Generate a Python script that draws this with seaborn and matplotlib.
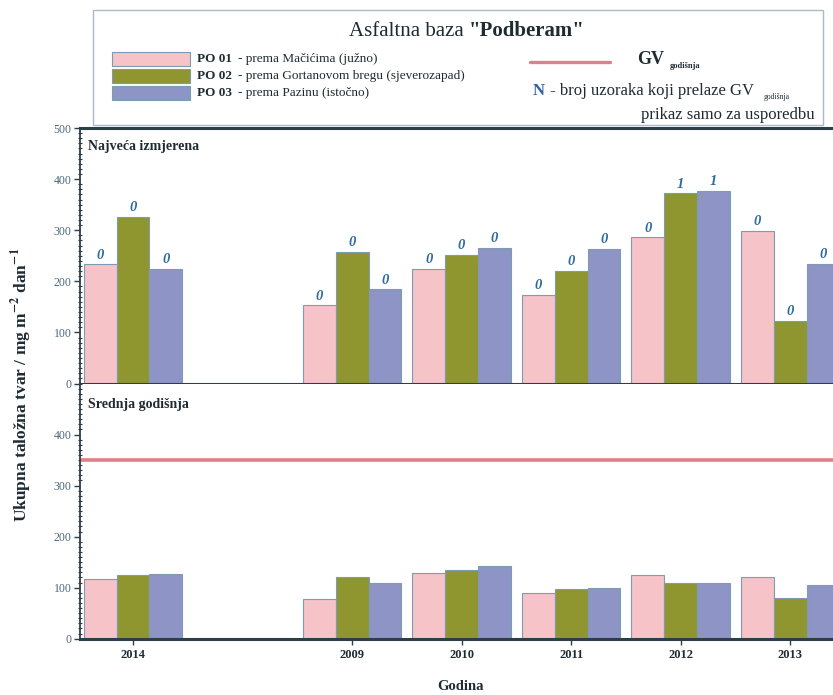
import numpy as np
import pandas as pd
import matplotlib
matplotlib.use("Agg")
import matplotlib.pyplot as plt
import seaborn as sns
from matplotlib.ticker import MultipleLocator
from matplotlib.patches import Rectangle
from matplotlib.lines import Line2D

# values
years = ['2014', '2009', '2010', '2011', '2012', '2013']
stations = ['PO 01', 'PO 02', 'PO 03']
station_names = ['- prema Mačićima (južno)',
                 '- prema Gortanovom bregu (sjeverozapad)',
                 '- prema Pazinu (istočno)']
max_po01 = [233, 153, 225, 173, 286, 299]
max_po02 = [326, 258, 251, 221, 372, 123]
max_po03 = [225, 184, 265, 264, 377, 234]
mean_po01 = [117, 78, 128, 90, 125, 120]
mean_po02 = [124, 121, 134, 98, 110, 80]
mean_po03 = [126, 109, 143, 100, 109, 106]
n_po01 = [0, 0, 0, 0, 0, 0]
n_po02 = [0, 0, 0, 0, 1, 0]
n_po03 = [0, 0, 0, 0, 1, 0]
gv_godisnja = 350

# one empty slot between 2014 and 2009 as in the original
slots = ['2014', ' ', '2009', '2010', '2011', '2012', '2013']
colors = ['#F5C3C8', '#8F9630', '#8E94C6']
palette = dict(zip(stations, colors))


def long_table(a, b, c):
    return pd.DataFrame({'godina': years * 3,
                         'postaja': np.repeat(stations, len(years)),
                         'vrijednost': a + b + c})


df_max = long_table(max_po01, max_po02, max_po03)
df_mean = long_table(mean_po01, mean_po02, mean_po03)
n_lookup = {s: dict(zip(years, n)) for s, n in zip(stations, [n_po01, n_po02, n_po03])}

sns.set_theme(style='white')
plt.rcParams['font.family'] = ['Liberation Serif', 'DejaVu Serif']
plt.rcParams['mathtext.fontset'] = 'stix'

fig = plt.figure(figsize=(8.33, 6.95), dpi=100)
ax_top = fig.add_axes([0.096, 0.4482, 0.904, 0.3676])
ax_bot = fig.add_axes([0.096, 0.0810, 0.904, 0.3672])

spine_col = '#2C3E46'
for ax, df in [(ax_top, df_max), (ax_bot, df_mean)]:
    sns.barplot(data=df, x='godina', y='vrijednost', hue='postaja', order=slots,
                hue_order=stations, palette=palette, saturation=1, width=0.9, gap=0,
                edgecolor='#7D9CB2', linewidth=0.8, errorbar=None, legend=False, ax=ax)
    ax.set_xlim(-0.484, 6.39)
    ax.set_ylim(0, 500)
    ax.set_xlabel('')
    ax.set_ylabel('')
    ax.set_xticks([slots.index(y) for y in years])
    ax.yaxis.set_minor_locator(MultipleLocator(10))
    ax.tick_params(axis='both', which='major', bottom=True, left=True, direction='out',
                   length=4, width=1, color=spine_col)
    ax.tick_params(axis='y', which='minor', left=True, direction='inout', length=3,
                   width=0.8, color=spine_col)
    ax.tick_params(axis='y', labelsize=8.5, labelcolor='#4B6878', pad=2)
    ax.spines['right'].set_visible(False)
    ax.spines['left'].set_color(spine_col)
    ax.spines['left'].set_linewidth(1.3)
    ax.spines['bottom'].set_color(spine_col)
    ax.spines['bottom'].set_linewidth(2.2)

ax_top.spines['top'].set_color(spine_col)
ax_top.spines['top'].set_linewidth(2.2)
ax_bot.spines['top'].set_visible(False)
ax_top.set_xticklabels([])
ax_top.set_yticks([0, 100, 200, 300, 400, 500])
ax_bot.set_yticks([0, 100, 200, 300, 400])
ax_bot.set_xticklabels(years, fontsize=9, fontweight='bold', color='#1E2B33')

# N labels above the "najveca" bars
for patch in ax_top.patches:
    h = patch.get_height()
    if np.isnan(h) or h == 0:
        continue
    xc = patch.get_x() + patch.get_width() / 2
    slot = int(round(xc))
    k = int(round((xc - slot) / 0.3)) + 1
    n = n_lookup[stations[k]][slots[slot]]
    ax_top.annotate(str(n), (xc, h), xytext=(0, 2), textcoords='offset points',
                    ha='center', va='bottom', fontsize=10.5, fontstyle='italic',
                    fontweight='bold', color='#2E6A9E')

ax_bot.axhline(gv_godisnja, color='#E07F8A', lw=2.6, zorder=1)

ax_top.text(0.011, 0.926, 'Najveća izmjerena', transform=ax_top.transAxes,
            fontsize=10, fontweight='bold', color='#1E2B33', va='center')
ax_bot.text(0.011, 0.916, 'Srednja godišnja', transform=ax_bot.transAxes,
            fontsize=10, fontweight='bold', color='#1E2B33', va='center')

fig.text(460 / 833, 1 - 686 / 695, 'Godina', ha='center', va='center',
         fontsize=10.5, fontweight='bold', color='#1E2B33')
fig.text(22 / 833, 1 - 385 / 695,
         r'Ukupna taložna tvar / mg m$^{\mathbf{-2}}$ dan$^{\mathbf{-1}}$',
         rotation=90, ha='center', va='center', fontsize=12.5, fontweight='bold',
         color='#1E2B33')


# legend box on top of the figure
def px(x, y):
    return x / 833, 1 - y / 695


fig.patches.append(Rectangle(px(93, 125), 730 / 833, 115 / 695, transform=fig.transFigure,
                             facecolor='white', edgecolor='#A9BBC8', lw=1))
fig.text(*px(469, 31), 'Asfaltna baza ', ha='right', va='center', fontsize=15, color='#1E2B33')
fig.text(*px(469, 31), '"Podberam"', ha='left', va='center', fontsize=15,
         fontweight='bold', color='#1E2B33')
for i, (st, name, col) in enumerate(zip(stations, station_names, colors)):
    yc = 59 + i * 17
    fig.patches.append(Rectangle(px(112, yc + 7), 78 / 833, 14 / 695,
                                 transform=fig.transFigure, facecolor=col,
                                 edgecolor='#7D9CB2', lw=0.8))
    fig.text(*px(197, yc), st, ha='left', va='center', fontsize=9.5,
             fontweight='bold', color='#1E2B33')
    fig.text(*px(238, yc), name, ha='left', va='center', fontsize=9.5, color='#1E2B33')

fig.lines.append(Line2D([530 / 833, 610 / 833], [1 - 62 / 695] * 2,
                        transform=fig.transFigure, color='#E07F8A', lw=2.4))
fig.text(*px(637, 64), 'GV', ha='left', va='baseline', fontsize=13, fontweight='bold',
         color='#1E2B33')
fig.text(*px(670, 68), 'godišnja', ha='left', va='baseline', fontsize=6,
         fontweight='bold', color='#1E2B33')
fig.text(*px(533, 95), 'N', ha='left', va='baseline', fontsize=12, fontweight='bold',
         color='#2E5F9E')
fig.text(*px(546, 95), ' - broj uzoraka koji prelaze GV', ha='left', va='baseline',
         fontsize=12, color='#1E2B33')
fig.text(*px(764, 99), 'godišnja', ha='left', va='baseline', fontsize=5.5, color='#1E2B33')
fig.text(*px(815, 119), 'prikaz samo za usporedbu', ha='right', va='baseline',
         fontsize=12, color='#1E2B33')

fig.savefig('out.png', dpi=100)
